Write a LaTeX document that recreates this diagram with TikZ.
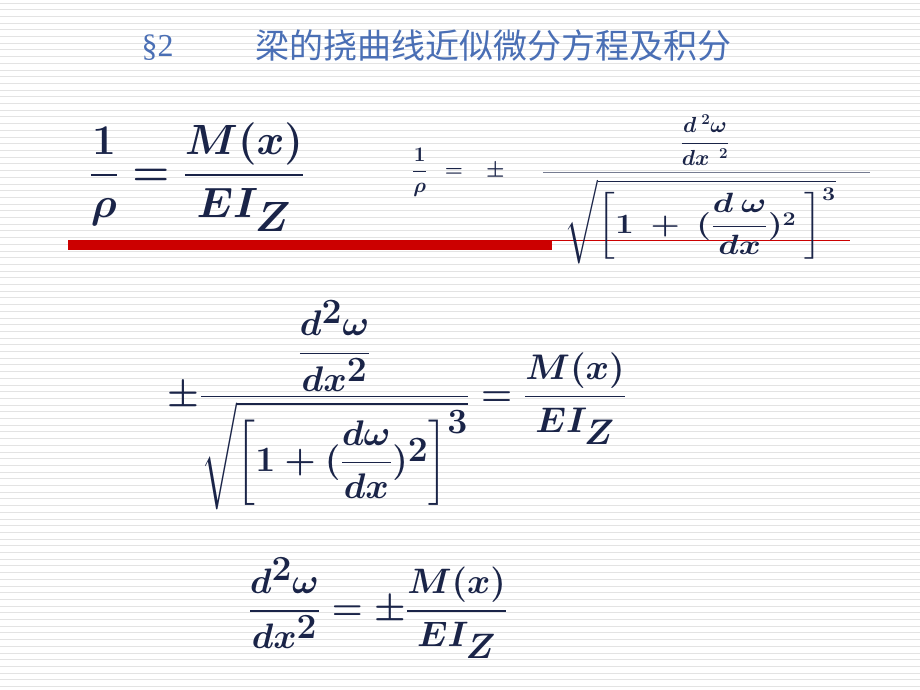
\documentclass[tikz,border=0pt]{standalone}
\usepackage{amsmath}
\usepackage{fontspec}
\newfontfamily\cjk{Noto Sans CJK SC}
\setmainfont{Liberation Serif}
\definecolor{ink}{HTML}{1A2448}
\definecolor{ttl}{HTML}{4A6FB5}
\definecolor{bar}{HTML}{CC0000}
\begin{document}
\boldmath
\begin{tikzpicture}[x=1pt,y=-1pt,
  eq/.style={inner sep=0pt,text=ink,font=\fontsize{40}{46}\selectfont},
  eqs/.style={inner sep=0pt,text=ink,font=\fontsize{22}{26}\selectfont}]
\useasboundingbox (0,0) rectangle (920,690);
\fill[white] (0,0) rectangle (920,690);
\foreach \k in {0,...,103} {\draw[gray!22,line width=0.8pt] (0,{3+\k*6.7}) -- (920,{3+\k*6.7});}
\node[text=ttl,font=\fontsize{32}{36}\selectfont,anchor=west] (t1) at (138,48) {§2};
\node[text=ttl,font=\cjk\fontsize{34}{38}\selectfont,anchor=west] (t2) at (252,46) {梁的挠曲线近似微分方程及积分};
% formula 1
\node[eq,scale=1.7] (f1) at (197,177) {$\dfrac{1}{\rho}=\dfrac{M(x)}{EI_Z}$};
% red bar
\fill[bar] (68,240) rectangle (552,250);
\draw[bar,line width=1pt] (552,240) -- (850,240);
% formula 2
\node[eqs,anchor=west] (f2) at (412,172) {$\dfrac{1}{\rho}\ \ =\ \ \ \pm$};
\draw[ink!60,line width=0.6pt] (543,172) -- (870,172);
\node[eqs,scale=1.05] (n2) at (705,140) {$\dfrac{d^{\;2}\omega}{dx^{\;\;2}}$};
\node[eqs,font=\fontsize{24}{28}\selectfont,scale=1.12,xscale=1.2] (d2) at (700,222) {$\sqrt{\left[1\ +\ (\dfrac{d\ \omega}{dx})^{2}\ \right]^{3}}$};
% formula 3
\node[eq,scale=1.43] (f3) at (397,405) {$\pm\dfrac{\dfrac{d^2\omega}{dx^2}}{\sqrt{\left[1+(\dfrac{d\omega}{dx})^2\right]^3}}=\dfrac{M(x)}{EI_Z}$};
% formula 4
\node[eq,scale=1.42] (f4) at (378,608) {$\dfrac{d^2\omega}{dx^2}=\pm\dfrac{M(x)}{EI_Z}$};
\end{tikzpicture}
\end{document}
